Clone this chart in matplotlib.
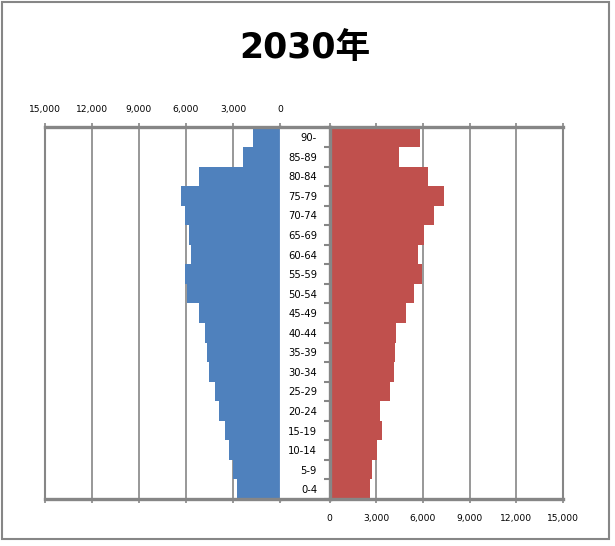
import numpy as np
import matplotlib
matplotlib.use("Agg")
import matplotlib.pyplot as plt
from matplotlib.patches import Rectangle
from matplotlib.ticker import FuncFormatter, MultipleLocator

# age groups, bottom to top
ages = ["0-4", "5-9", "10-14", "15-19", "20-24", "25-29", "30-34", "35-39",
        "40-44", "45-49", "50-54", "55-59", "60-64", "65-69", "70-74",
        "75-79", "80-84", "85-89", "90-"]
male = [2750, 3000, 3230, 3510, 3890, 4160, 4520, 4670, 4800, 5160,
        5920, 6070, 5670, 5840, 6070, 6300, 5140, 2370, 1730]
female = [2630, 2760, 3030, 3400, 3270, 3910, 4160, 4200, 4300, 4940,
          5450, 5960, 5700, 6090, 6730, 7370, 6350, 4440, 5830]
xticks = [0, 3000, 6000, 9000, 12000, 15000]

W, H = 615, 546
gray = "#868686"
blue = "#4F81BD"
red = "#C0504D"

fig = plt.figure(figsize=(W / 100, H / 100), dpi=100)
fig.patch.set_facecolor("white")

def px(x0, y0, x1, y1):
    return [x0 / W, 1 - y1 / H, (x1 - x0) / W, (y1 - y0) / H]

top, bot = 127.5, 499
axL = fig.add_axes(px(45, top, 280, bot))
axM = fig.add_axes(px(280, top, 329.5, bot))
axR = fig.add_axes(px(329.5, top, 563, bot))

y = np.arange(len(ages))
fmt = FuncFormatter(lambda v, p: f"{int(v):,}")

axL.barh(y, male, height=1.0, color=blue, linewidth=0)
axR.barh(y, female, height=1.0, color=red, linewidth=0)

for ax in (axL, axM, axR):
    ax.set_ylim(-0.5, len(ages) - 0.5)
    for s in ("top", "bottom"):
        ax.spines[s].set_color(gray)
        ax.spines[s].set_linewidth(2.4)

for ax in (axL, axR):
    ax.set_xlim(0, 15000)
    ax.set_xticks(xticks)
    ax.xaxis.set_major_formatter(fmt)
    ax.grid(axis="x", color=gray, linewidth=1.2)
    ax.set_axisbelow(True)
    ax.tick_params(axis="x", which="both", color=gray, width=1.2, length=3,
                   top=True, bottom=True, labelsize=6.6, direction="out")

axL.invert_xaxis()
axL.tick_params(axis="x", labeltop=True, labelbottom=False, pad=7)
axL.set_yticks([])
axL.spines["left"].set_color(gray)
axL.spines["left"].set_linewidth(1.5)
axL.spines["right"].set_color("#9db6d8")
axL.spines["right"].set_linewidth(1.0)

axR.tick_params(axis="x", labeltop=False, labelbottom=True, pad=8)
axR.spines["right"].set_color(gray)
axR.spines["right"].set_linewidth(1.5)
axR.spines["left"].set_color(gray)
axR.spines["left"].set_linewidth(2.4)
axR.set_yticks(y)
axR.set_yticklabels(ages)
axR.yaxis.set_minor_locator(MultipleLocator(1, offset=0.5))
axR.tick_params(axis="y", which="major", length=0, pad=9, labelsize=7.2)
axR.tick_params(axis="y", which="minor", length=4, width=1.5, color=gray,
                direction="out")

axM.set_xticks([])
axM.set_yticks([])
axM.spines["left"].set_visible(False)
axM.spines["right"].set_visible(False)

fig.text(0.496, 0.912, "2030年", ha="center", va="center", fontsize=25,
         fontweight="bold", family=["DejaVu Sans", "Noto Sans CJK JP"])

fig.add_artist(Rectangle((1.5 / W, 1 - 539 / H), (609 - 1.5) / W, (539 - 1.5) / H,
                         transform=fig.transFigure, fill=False,
                         edgecolor=gray, linewidth=1.5))

fig.savefig("out.png", dpi=100)
